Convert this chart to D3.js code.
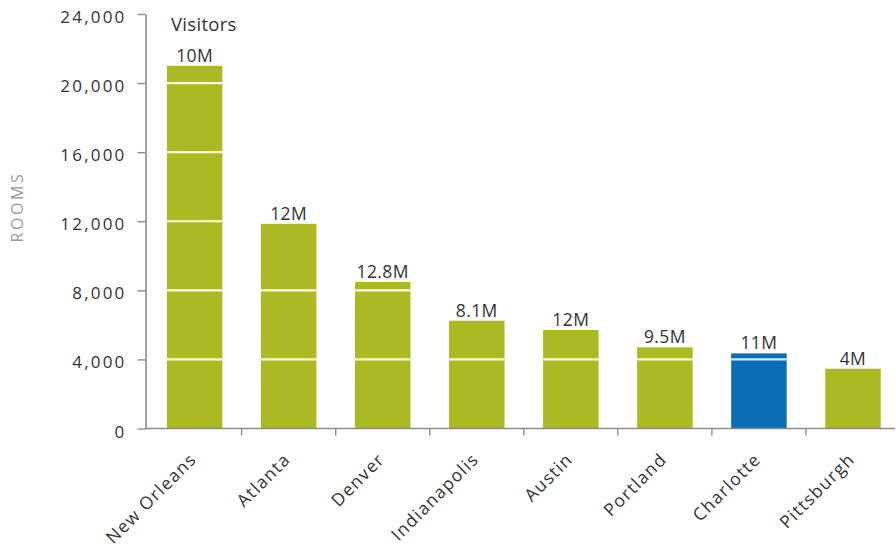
<!DOCTYPE html>
<html>
<head>
<meta charset="utf-8">
<script src="https://cdn.jsdelivr.net/npm/d3@7"></script>
<style>
  html, body { margin: 0; padding: 0; background: #ffffff; }
  svg { display: block; }
  text { font-family: "Open Sans", "Noto Sans", sans-serif; fill: #333333; }
</style>
</head>
<body>
<svg id="chart" width="896" height="553"></svg>
<script>
// Hotel rooms per city, with annual visitors printed above each bar
const categories = ["New Orleans", "Atlanta", "Denver", "Indianapolis", "Austin", "Portland", "Charlotte", "Pittsburgh"];
const rooms = [21000, 11850, 8480, 6240, 5700, 4700, 4350, 3460];
const visitorLabels = ["10M", "12M", "12.8M", "8.1M", "12M", "9.5M", "11M", "4M"];
const highlightCity = "Charlotte";
const yTicks = [0, 4000, 8000, 12000, 16000, 20000, 24000];

const green = "#abba22";
const blue = "#0b6db5";
const axisGray = "#8c8c8c";

const svg = d3.select("#chart");
const data = categories.map((c, i) => ({ city: c, rooms: rooms[i], label: visitorLabels[i] }));

const x = d3.scaleBand()
  .domain(categories)
  .range([147.6, 900])
  .paddingInner(0.41)
  .paddingOuter(0.205);

const y = d3.scaleLinear()
  .domain([0, 24000])
  .range([428.5, 14]);

const step = x.step();
const outer = step * 0.205;

// Bars
svg.append("g")
  .selectAll("rect")
  .data(data)
  .join("rect")
  .attr("x", d => x(d.city))
  .attr("y", d => y(d.rooms))
  .attr("width", x.bandwidth())
  .attr("height", d => y(0) - y(d.rooms))
  .attr("fill", d => d.city === highlightCity ? blue : green);

// Light rules through each bar at every tick level it passes
const rules = [];
data.forEach(d => {
  yTicks.forEach(t => {
    if (t > 0 && t < d.rooms) rules.push({ city: d.city, v: t });
  });
});
svg.append("g")
  .selectAll("line")
  .data(rules)
  .join("line")
  .attr("x1", d => x(d.city))
  .attr("x2", d => x(d.city) + x.bandwidth())
  .attr("y1", d => y(d.v))
  .attr("y2", d => y(d.v))
  .attr("stroke", d => d.city === highlightCity ? "#d8f0ff" : "#fbfbe6")
  .attr("stroke-width", 2.2);

// Y axis
const yAxis = d3.axisLeft(y)
  .tickValues(yTicks)
  .tickFormat(d3.format(","))
  .tickSize(8)
  .tickPadding(11)
  .tickSizeOuter(0);

const gy = svg.append("g")
  .attr("transform", "translate(145.5,0)")
  .call(yAxis);
gy.select(".domain").attr("stroke", axisGray).attr("stroke-width", 1.6);
gy.selectAll(".tick line").attr("stroke", axisGray).attr("stroke-width", 1.4);
gy.selectAll(".tick text")
  .attr("font-size", 17)
  .attr("letter-spacing", "2.2px")
  .attr("dy", "0.5em")
  .attr("fill", "#333333")
  .style("font-family", "'Open Sans', sans-serif");

// X axis baseline with ticks between the categories
const gx = svg.append("g");
gx.append("line")
  .attr("x1", 145.5)
  .attr("x2", 895)
  .attr("y1", y(0))
  .attr("y2", y(0))
  .attr("stroke", axisGray)
  .attr("stroke-width", 1.6);
gx.selectAll("line.sep")
  .data(categories.slice(1))
  .join("line")
  .attr("class", "sep")
  .attr("x1", d => x(d) - outer)
  .attr("x2", d => x(d) - outer)
  .attr("y1", y(0))
  .attr("y2", y(0) + 7)
  .attr("stroke", axisGray)
  .attr("stroke-width", 1.4);

// Rotated category labels
gx.selectAll("text.cat")
  .data(categories)
  .join("text")
  .attr("class", "cat")
  .attr("transform", d => `translate(${x(d) + x.bandwidth() / 2 + 3},${y(0) + 32}) rotate(-45)`)
  .attr("text-anchor", "end")
  .attr("font-size", 17.5)
  .attr("letter-spacing", "1.3px")
  .text(d => d);

// Visitor counts above the bars
svg.append("g")
  .selectAll("text")
  .data(data)
  .join("text")
  .attr("x", d => x(d.city) + x.bandwidth() / 2)
  .attr("y", d => y(d.rooms) - 4)
  .attr("text-anchor", "middle")
  .attr("font-size", 17.5)
  .attr("letter-spacing", "0.4px")
  .text(d => d.label);

// Series caption
svg.append("text")
  .attr("x", 171)
  .attr("y", 30.5)
  .attr("font-size", 18.5)
  .attr("letter-spacing", "0.3px")
  .text("Visitors");

// Y axis title
svg.append("text")
  .attr("transform", "translate(23,207) rotate(-90)")
  .attr("text-anchor", "middle")
  .attr("font-size", 16)
  .attr("letter-spacing", "2.6px")
  .style("fill", "#999999")
  .text("ROOMS");
</script>
</body>
</html>
